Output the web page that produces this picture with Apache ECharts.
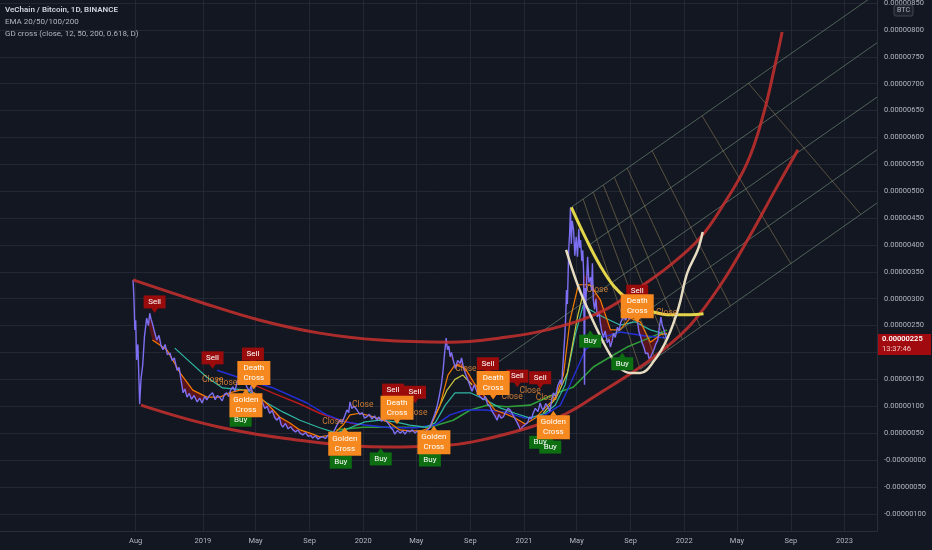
<!DOCTYPE html>
<html><head><meta charset="utf-8">
<script src="https://cdn.jsdelivr.net/npm/echarts@6/dist/echarts.min.js"></script>
<style>html,body{margin:0;padding:0;background:#131722}#c{width:932px;height:550px}</style>
</head><body><div id="c"></div>
<script>
// values are in satoshi units (1e-8 BTC)
const xTicks = ['2018-08-01','2019-01-01','2019-05-01','2019-09-01','2020-01-01','2020-05-01','2020-09-01','2021-01-01','2021-05-01','2021-09-01','2022-01-01','2022-05-01','2022-09-01','2023-01-01'];
const monthNames = ['Jan','Feb','Mar','Apr','May','Jun','Jul','Aug','Sep','Oct','Nov','Dec'];
const X_MIN = '2017-09-26', X_MAX = '2023-03-16';
const lastPrice = 225, lastTime = '13:37:46';

const price = [['2018-07-26',335],['2018-07-28',300],['2018-07-30',242],['2018-08-01',260],['2018-08-03',186],['2018-08-06',215],['2018-08-10',104],['2018-08-13',150],['2018-08-17',177],['2018-08-21',230],['2018-08-26',264],['2018-08-30',250],['2018-09-02',273],['2018-09-05',262],['2018-09-09',251],['2018-09-13',238],['2018-09-18',223],['2018-09-23',232],['2018-09-28',212],['2018-10-02',205],['2018-10-07',215],['2018-10-12',196],['2018-10-18',199],['2018-10-23',185],['2018-10-28',190],['2018-11-03',167],['2018-11-08',172],['2018-11-12',150],['2018-11-17',125],['2018-11-21',132],['2018-11-26',117],['2018-12-01',124],['2018-12-06',113],['2018-12-12',120],['2018-12-19',108],['2018-12-25',115],['2018-12-30',106],
['2019-01-05',118],['2019-01-10',112],['2019-01-16',120],['2019-01-23',125],['2019-01-29',112],['2019-02-03',120],['2019-02-08',117],['2019-02-14',110],['2019-02-19',122],['2019-02-24',125],['2019-03-01',118],['2019-03-05',130],['2019-03-10',136],['2019-03-15',128],['2019-03-20',145],['2019-03-26',154],['2019-03-31',142],['2019-04-05',150],['2019-04-11',136],['2019-04-17',128],['2019-04-21',138],['2019-04-25',117],['2019-05-01',110],['2019-05-05',98],['2019-05-11',93],['2019-05-14',112],['2019-05-17',106],['2019-05-22',96],['2019-05-27',100],['2019-06-02',87],['2019-06-08',92],['2019-06-13',80],['2019-06-18',74],['2019-06-24',80],['2019-06-28',66],['2019-07-02',61],['2019-07-08',68],['2019-07-14',58],['2019-07-20',62],['2019-07-25',56],['2019-07-31',52],['2019-08-05',56],['2019-08-11',49],['2019-08-17',47],['2019-08-23',51],['2019-08-29',44],['2019-09-03',46],['2019-09-08',41],['2019-09-14',45],['2019-09-20',39],['2019-09-26',42],['2019-10-01',43],['2019-10-07',40],['2019-10-13',46],['2019-10-18',44],['2019-10-24',50],['2019-10-29',58],['2019-11-04',68],['2019-11-09',74],['2019-11-14',70],['2019-11-20',82],['2019-11-25',93],['2019-11-29',88],['2019-12-02',108],['2019-12-06',96],['2019-12-11',100],['2019-12-18',93],['2019-12-24',85],['2019-12-30',88],
['2020-01-04',78],['2020-01-09',80],['2020-01-15',85],['2020-01-21',76],['2020-01-27',82],['2020-02-01',74],['2020-02-06',80],['2020-02-12',72],['2020-02-18',78],['2020-02-24',71],['2020-02-29',66],['2020-03-04',60],['2020-03-09',56],['2020-03-13',48],['2020-03-19',55],['2020-03-25',50],['2020-03-31',54],['2020-04-05',48],['2020-04-11',55],['2020-04-16',52],['2020-04-22',56],['2020-04-28',50],['2020-05-03',54],['2020-05-09',50],['2020-05-14',46],['2020-05-20',52],['2020-05-26',56],['2020-06-01',61],['2020-06-06',72],['2020-06-12',85],['2020-06-17',99],['2020-06-22',118],['2020-06-27',140],['2020-07-01',167],['2020-07-04',195],['2020-07-08',227],['2020-07-11',205],['2020-07-14',212],['2020-07-17',192],['2020-07-20',200],['2020-07-24',186],['2020-07-29',170],['2020-08-03',185],['2020-08-09',180],['2020-08-12',190],['2020-08-16',173],['2020-08-21',160],['2020-08-26',150],['2020-09-01',136],['2020-09-05',128],['2020-09-10',140],['2020-09-17',125],['2020-09-23',118],['2020-09-30',112],['2020-10-05',118],['2020-10-10',104],['2020-10-16',99],['2020-10-21',90],['2020-10-27',82],['2020-11-01',74],['2020-11-05',85],['2020-11-10',78],['2020-11-15',80],['2020-11-20',88],['2020-11-26',96],['2020-12-01',93],['2020-12-06',85],['2020-12-11',78],['2020-12-17',69],['2020-12-21',62],['2020-12-24',56],['2020-12-29',62],
['2021-01-04',66],['2021-01-09',69],['2021-01-14',80],['2021-01-18',76],['2021-01-22',87],['2021-01-27',96],['2021-02-02',90],['2021-02-07',106],['2021-02-10',98],['2021-02-14',93],['2021-02-20',105],['2021-02-25',99],['2021-03-01',90],['2021-03-05',110],['2021-03-09',125],['2021-03-14',118],['2021-03-19',138],['2021-03-25',149],['2021-03-28',140],['2021-04-01',192],['2021-04-04',230],['2021-04-06',262],['2021-04-08',316],['2021-04-10',290],['2021-04-13',390],['2021-04-15',420],['2021-04-17',470],['2021-04-19',402],['2021-04-21',445],['2021-04-24',428],['2021-04-27',380],['2021-04-30',415],['2021-05-03',378],['2021-05-06',430],['2021-05-08',395],['2021-05-10',409],['2021-05-13',370],['2021-05-15',390],['2021-05-17',348],['2021-05-19',140],['2021-05-20',320],['2021-05-22',290],['2021-05-26',378],['2021-05-29',330],['2021-06-02',340],['2021-06-04',315],['2021-06-06',366],['2021-06-08',298],['2021-06-11',280],['2021-06-14',300],['2021-06-17',266],['2021-06-21',275],['2021-06-24',255],['2021-06-27',240],['2021-07-01',229],['2021-07-05',240],['2021-07-10',218],['2021-07-14',225],['2021-07-17',210],['2021-07-21',222],['2021-07-24',236],['2021-07-28',228],['2021-08-02',247],['2021-08-06',240],['2021-08-09',255],['2021-08-13',262],['2021-08-16',266],['2021-08-21',260],['2021-08-25',273],['2021-08-28',262],['2021-09-01',266],['2021-09-05',285],['2021-09-08',279],['2021-09-11',262],['2021-09-14',270],['2021-09-17',255],['2021-09-20',238],['2021-09-24',229],['2021-09-27',218],['2021-10-01',210],['2021-10-05',198],['2021-10-10',199],['2021-10-13',188],['2021-10-17',192],['2021-10-21',200],['2021-10-24',205],['2021-10-28',215],['2021-11-02',223],['2021-11-05',245],['2021-11-09',266],['2021-11-12',250],['2021-11-16',242],['2021-11-19',232],['2021-11-22',225]];

const ema20 = [['2018-09-08',223],['2018-10-11',205],['2018-11-10',162],['2018-12-09',130],['2019-01-10',117],['2019-02-09',117],['2019-03-03',125],['2019-03-26',130],['2019-04-18',130],['2019-05-11',117],['2019-06-03',99],['2019-06-25',80],['2019-07-18',69],['2019-08-10',56],['2019-09-02',50],['2019-09-24',43],['2019-10-24',47],['2019-11-16',65],['2019-12-02',84],['2019-12-24',87],['2020-01-16',82],['2020-02-09',76],['2020-03-02',69],['2020-03-24',56],['2020-04-16',54],['2020-05-10',54],['2020-06-01',60],['2020-06-24',102],['2020-07-12',158],['2020-07-28',177],['2020-08-20',171],['2020-09-12',140],['2020-10-05',117],['2020-10-27',93],['2020-11-19',86],['2020-12-12',78],['2021-01-04',67],['2021-01-27',78],['2021-02-18',97],['2021-03-13',115],['2021-04-01',158],['2021-04-16',260],['2021-05-05',326],['2021-06-01',326],['2021-06-24',298],['2021-07-17',242],['2021-08-08',242],['2021-08-31',264],['2021-09-23',257],['2021-10-16',219],['2021-11-08',233],['2021-11-23',236]];
const ema50 = [['2018-10-29',208],['2018-12-03',182],['2019-01-10',154],['2019-02-15',134],['2019-04-11',130],['2019-05-27',106],['2019-07-03',89],['2019-08-10',74],['2019-09-24',60],['2019-11-02',50],['2019-12-02',60],['2020-01-05',71],['2020-02-09',74],['2020-03-14',71],['2020-04-16',65],['2020-05-22',61],['2020-06-13',69],['2020-07-06',102],['2020-07-28',125],['2020-09-01',125],['2020-10-05',112],['2020-11-08',97],['2020-12-12',87],['2021-01-15',78],['2021-02-18',87],['2021-03-13',102],['2021-04-05',140],['2021-04-28',233],['2021-05-16',288],['2021-06-01',279],['2021-07-05',264],['2021-08-08',251],['2021-09-11',257],['2021-10-16',242],['2021-11-23',233]];
const ema100 = [['2019-02-02',167],['2019-03-26',153],['2019-06-10',134],['2019-08-26',106],['2019-10-10',84],['2019-11-21',71],['2020-01-05',65],['2020-03-02',60],['2020-04-28',60],['2020-06-13',65],['2020-07-17',84],['2020-08-20',93],['2020-10-05',93],['2020-11-19',89],['2021-01-04',78],['2021-02-18',84],['2021-03-25',102],['2021-04-16',140],['2021-05-21',205],['2021-06-24',227],['2021-08-08',238],['2021-10-01',231],['2021-11-23',227]];
const slowBear = [['2019-04-18',143],['2019-06-14',123],['2019-08-10',104],['2019-09-24',87],['2019-11-09',74],['2019-12-24',65]];
const slowBull = [['2019-11-01',56],['2020-01-01',61],['2020-03-17',61],['2020-06-01',61],['2020-07-24',74],['2020-09-01',93],['2020-10-09',102],['2020-11-23',99],['2021-01-15',102],['2021-03-18',125],['2021-04-24',136],['2021-06-08',173],['2021-07-17',192],['2021-08-24',210],['2021-10-01',223],['2021-11-08',236],['2021-11-23',242]];
const fastBull1 = [['2020-06-01',62],['2020-06-20',95],['2020-07-10',130],['2020-07-28',150],['2020-08-15',158],['2020-09-05',140]];
const fastBull2 = [['2021-02-14',87],['2021-03-15',115],['2021-04-10',162],['2021-05-03',266],['2021-05-14',304]];
// periods where the GD cross indicator shades the gap between price and the fast line
const bearFills = [['2018-08-26','2019-01-10'],['2019-04-25','2019-10-01'],['2020-07-17','2021-01-09'],['2021-05-17','2021-07-24'],['2021-09-17','2021-11-08']];

const upperArc = [['2018-07-26',335],['2018-12-25',294],['2019-05-11',260],['2019-09-24',236],['2020-02-09',223],['2020-07-17',219],['2020-11-08',227],['2021-02-22',242],['2021-06-24',275],['2021-09-23',322],['2021-12-01',363],['2022-02-06',413],['2022-03-29',472],['2022-05-24',552],['2022-06-30',642],['2022-07-27',735],['2022-08-12',796]];
const lowerArc = [['2018-08-13',102],['2019-02-09',61],['2019-09-24',32],['2020-02-24',24],['2020-07-17',28],['2020-09-25',37],['2021-01-15',61],['2021-04-09',87],['2021-06-24',125],['2021-09-07',164],['2021-11-08',201],['2022-01-15',251],['2022-03-25',326],['2022-06-01',419],['2022-07-27',502],['2022-09-17',577]];
const yellowCurve = [['2021-04-19',470],['2021-05-24',409],['2021-06-24',361],['2021-07-24',324],['2021-08-25',299],['2021-09-23',285],['2021-10-24',275],['2021-12-01',270],['2022-01-15',270],['2022-02-14',272]];
const beigeCurve = [['2021-04-07',391],['2021-05-02',329],['2021-05-24',285],['2021-06-17',242],['2021-07-17',195],['2021-08-08',171],['2021-08-31',162],['2021-09-23',162],['2021-10-24',184],['2021-11-24',227],['2021-12-19',283],['2022-01-08',348],['2022-02-01',391],['2022-02-12',424]];

const channelLines = [
  [['2021-04-19',470],['2023-03-16',868]],
  [['2021-05-28',399],['2023-03-16',776]],
  [['2020-09-19',156],['2023-03-16',675]],
  [['2021-06-24',216],['2023-03-16',577]],
  [['2021-09-23',169],['2023-03-16',478]]
];
const fibLines = [
  [['2021-05-16',485],['2021-09-23',169]],
  [['2021-06-08',498],['2021-10-27',189]],
  [['2021-07-01',511],['2021-11-26',206]],
  [['2021-07-26',526],['2021-12-28',224]],
  [['2021-08-24',543],['2022-02-07',248]],
  [['2021-10-20',575],['2022-04-16',287]],
  [['2022-02-11',640],['2022-09-01',365]],
  [['2022-05-27',701],['2023-02-06',458]]
];

const sellMarks = [['2018-09-13',294],['2019-01-23',190],['2019-04-25',197],['2020-03-09',130],['2020-04-28',126],['2020-10-11',179],['2020-12-17',156],['2021-02-07',153],['2021-09-16',314]];
const buyMarks = [['2019-03-28',74],['2019-11-11',-4],['2020-02-10',2],['2020-06-01',0],['2021-02-07',33],['2021-03-02',24],['2021-06-01',221],['2021-08-13',179]];
const deathMarks = [['2019-04-27',162],['2020-03-18',97],['2020-10-23',143],['2021-09-16',286]];
const goldenMarks = [['2019-04-09',102],['2019-11-20',30],['2020-06-10',33],['2021-03-09',61]];
const closeMarks = [['2019-01-23',149],['2019-02-24',143],['2019-10-24',71],['2019-12-31',102],['2020-05-02',87],['2020-08-22',169],['2020-12-05',117],['2021-01-15',128],['2021-02-21',115],['2021-06-17',316],['2021-11-22',273]];

const FONT = 'Roboto';
function ts(s) { const p = s.split('-').map(Number); return Date.UTC(p[0], p[1] - 1, p[2]); }
function pts(arr) { return arr.map(d => [ts(d[0]), d[1]]); }

const chart = echarts.init(document.getElementById('c'), null, {renderer: 'canvas'});

function lineSeries(data, color, width, z, opts) {
  return Object.assign({
    type: 'line', data: pts(data), xAxisIndex: 0, yAxisIndex: 0,
    showSymbol: false, symbol: 'none', smooth: false, silent: true,
    lineStyle: {color: color, width: width}, z: z, animation: false
  }, opts || {});
}
function boxSeries(data, text, color, w, h, z) {
  return {type: 'scatter', data: pts(data), xAxisIndex: 0, yAxisIndex: 0, symbol: 'rect', symbolSize: [w, h],
    itemStyle: {color: color, opacity: 1}, silent: true, z: z, animation: false,
    label: {show: true, position: 'inside', formatter: text, color: '#ffffff', fontSize: 8, lineHeight: 10, fontFamily: FONT}};
}
function pointerSeries(data, color, down, off, z) {
  return {type: 'scatter', data: pts(data), xAxisIndex: 0, yAxisIndex: 0, symbol: 'triangle', symbolSize: [7, 5],
    symbolRotate: down ? 180 : 0, symbolOffset: [0, off], itemStyle: {color: color, opacity: 1}, silent: true, z: z, animation: false};
}
function fillSeries(a, b, range, color) {
  const t0 = ts(range[0]), t1 = ts(range[1]);
  const pa = pts(a).filter(p => p[0] >= t0 && p[0] <= t1);
  const pb = pts(b).filter(p => p[0] >= t0 && p[0] <= t1).reverse();
  const poly = pa.concat(pb);
  return {type: 'custom', xAxisIndex: 0, yAxisIndex: 0, data: [[t0, 0]], silent: true, z: 1, animation: false,
    renderItem: function (params, api) {
      return {type: 'polygon', shape: {points: poly.map(p => api.coord(p))}, style: {fill: color}};
    }};
}

const series = [];
bearFills.forEach(r => series.push(fillSeries(price, ema20, r, 'rgba(150,18,24,0.55)')));
series.push(lineSeries(slowBear, '#b71c1c', 1.6, 2));
series.push(lineSeries(slowBull, '#2e9d3a', 1.6, 2));
series.push(lineSeries(ema100, '#2430d8', 1.4, 2));
series.push(lineSeries(ema50, '#2fb7a3', 1.2, 2));
series.push(lineSeries(fastBull1, '#c8c83c', 1.2, 2));
series.push(lineSeries(fastBull2, '#c8c83c', 1.2, 2));
series.push(lineSeries(ema20, '#f57c00', 1.2, 3));
series.push(lineSeries(price, '#7d6ff2', 1.4, 4));
channelLines.forEach(l => series.push(lineSeries(l, 'rgba(130,160,135,0.55)', 1, 5)));
fibLines.forEach(l => series.push(lineSeries(l, 'rgba(160,140,90,0.5)', 1, 5)));
series.push(lineSeries(upperArc, 'rgba(200,48,46,0.85)', 3, 6, {smooth: 0.4}));
series.push(lineSeries(lowerArc, 'rgba(200,48,46,0.85)', 3, 6, {smooth: 0.4}));
series.push(lineSeries(yellowCurve, '#e3d54a', 3, 7, {smooth: 0.4}));
series.push(lineSeries(beigeCurve, '#e6dcc2', 2.5, 7, {smooth: 0.4}));

series.push(pointerSeries(sellMarks, '#9a0b0b', true, 8.5, 10));
series.push(boxSeries(sellMarks, 'Sell', '#9a0b0b', 22, 13, 11));
series.push(pointerSeries(buyMarks, '#0d6e12', false, -8.5, 10));
series.push(boxSeries(buyMarks, 'Buy', '#0d6e12', 22, 13, 11));
series.push(pointerSeries(deathMarks, '#f5891f', true, 14, 12));
series.push(boxSeries(deathMarks, 'Death\nCross', '#f5891f', 33, 24, 13));
series.push(pointerSeries(goldenMarks, '#f5891f', false, -14, 12));
series.push(boxSeries(goldenMarks, 'Golden\nCross', '#f5891f', 33, 24, 13));
series.push({type: 'scatter', data: pts(closeMarks), xAxisIndex: 0, yAxisIndex: 0, symbol: 'circle', symbolSize: 1,
  itemStyle: {color: 'rgba(0,0,0,0)'}, silent: true, z: 9, animation: false,
  label: {show: true, position: 'inside', formatter: 'Close', color: '#f4923a', fontSize: 8.5, fontFamily: FONT}});

function yFmt(v) {
  if (v === 0) return '-0.00000000';
  const s = (Math.abs(v) / 1e8).toFixed(8);
  return (v < 0 ? '-' : '') + s;
}
function xFmt(v) {
  const d = new Date(v);
  return d.getUTCMonth() === 0 ? String(d.getUTCFullYear()) : monthNames[d.getUTCMonth()];
}

const gridLine = {color: 'rgba(42,46,57,0.75)', width: 1};
const xTickVals = xTicks.map(ts);
chart.setOption({
  backgroundColor: '#131722',
  animation: false,
  grid: [
    {left: 0, right: 55, top: -23.84, bottom: 36.24, containLabel: false, outerBoundsMode: 'none'},
    {left: 0, right: 55, top: 0, bottom: 19, containLabel: false, outerBoundsMode: 'none'}
  ],
  xAxis: [
    {type: 'value', gridIndex: 0, min: ts(X_MIN), max: ts(X_MAX), show: false, splitLine: {show: false}},
    {type: 'value', gridIndex: 1, min: ts(X_MIN), max: ts(X_MAX),
      axisLine: {show: true, lineStyle: {color: '#2a2e39'}},
      axisTick: {show: false, customValues: xTickVals},
      axisLabel: {customValues: xTickVals, formatter: xFmt, color: '#b2b5be', fontSize: 7.5, fontFamily: FONT, margin: 6},
      splitLine: {show: true, lineStyle: gridLine}}
  ],
  yAxis: [
    {type: 'value', gridIndex: 0, position: 'right', min: -100, max: 900, interval: 50,
      axisLine: {show: false}, axisTick: {show: false},
      axisLabel: {formatter: yFmt, color: '#b2b5be', fontSize: 7.5, fontFamily: FONT, margin: 7, showMinLabel: true, showMaxLabel: true},
      splitLine: {show: true, lineStyle: gridLine}},
    {type: 'value', gridIndex: 1, position: 'right', min: 0, max: 1,
      axisLine: {show: true, lineStyle: {color: '#2a2e39'}}, axisTick: {show: false}, axisLabel: {show: false}, splitLine: {show: false}}
  ],
  series: series
});

const py = chart.convertToPixel({yAxisIndex: 0}, lastPrice);
chart.setOption({
  graphic: [
    {type: 'text', left: 5, top: 6, style: {text: 'VeChain / Bitcoin, 1D, BINANCE', fill: '#d1d4dc', font: '600 8px ' + FONT}, z: 100},
    {type: 'text', left: 5, top: 18, style: {text: 'EMA 20/50/100/200', fill: '#b2b5be', font: '8px ' + FONT}, z: 100},
    {type: 'text', left: 5, top: 30, style: {text: 'GD cross (close, 12, 50, 200, 0.618, D)', fill: '#b2b5be', font: '8px ' + FONT}, z: 100},
    {type: 'rect', shape: {x: 894, y: 5, width: 19, height: 11, r: 2}, style: {fill: '#1e222d', stroke: '#434651', lineWidth: 1}, z: 100},
    {type: 'text', x: 903.5, y: 10.5, style: {text: 'BTC', fill: '#b2b5be', font: '7px ' + FONT, align: 'center', verticalAlign: 'middle'}, z: 101},
    {type: 'rect', shape: {x: 878, y: py - 5, width: 53, height: 21}, style: {fill: '#a10b10'}, z: 100},
    {type: 'text', x: 882, y: py + 0.5, style: {text: yFmt(lastPrice), fill: '#ffffff', font: '600 7.5px ' + FONT, verticalAlign: 'middle'}, z: 101},
    {type: 'text', x: 882, y: py + 10, style: {text: lastTime, fill: '#f0c8c8', font: '7.5px ' + FONT, verticalAlign: 'middle'}, z: 101}
  ]
});
</script></body></html>
